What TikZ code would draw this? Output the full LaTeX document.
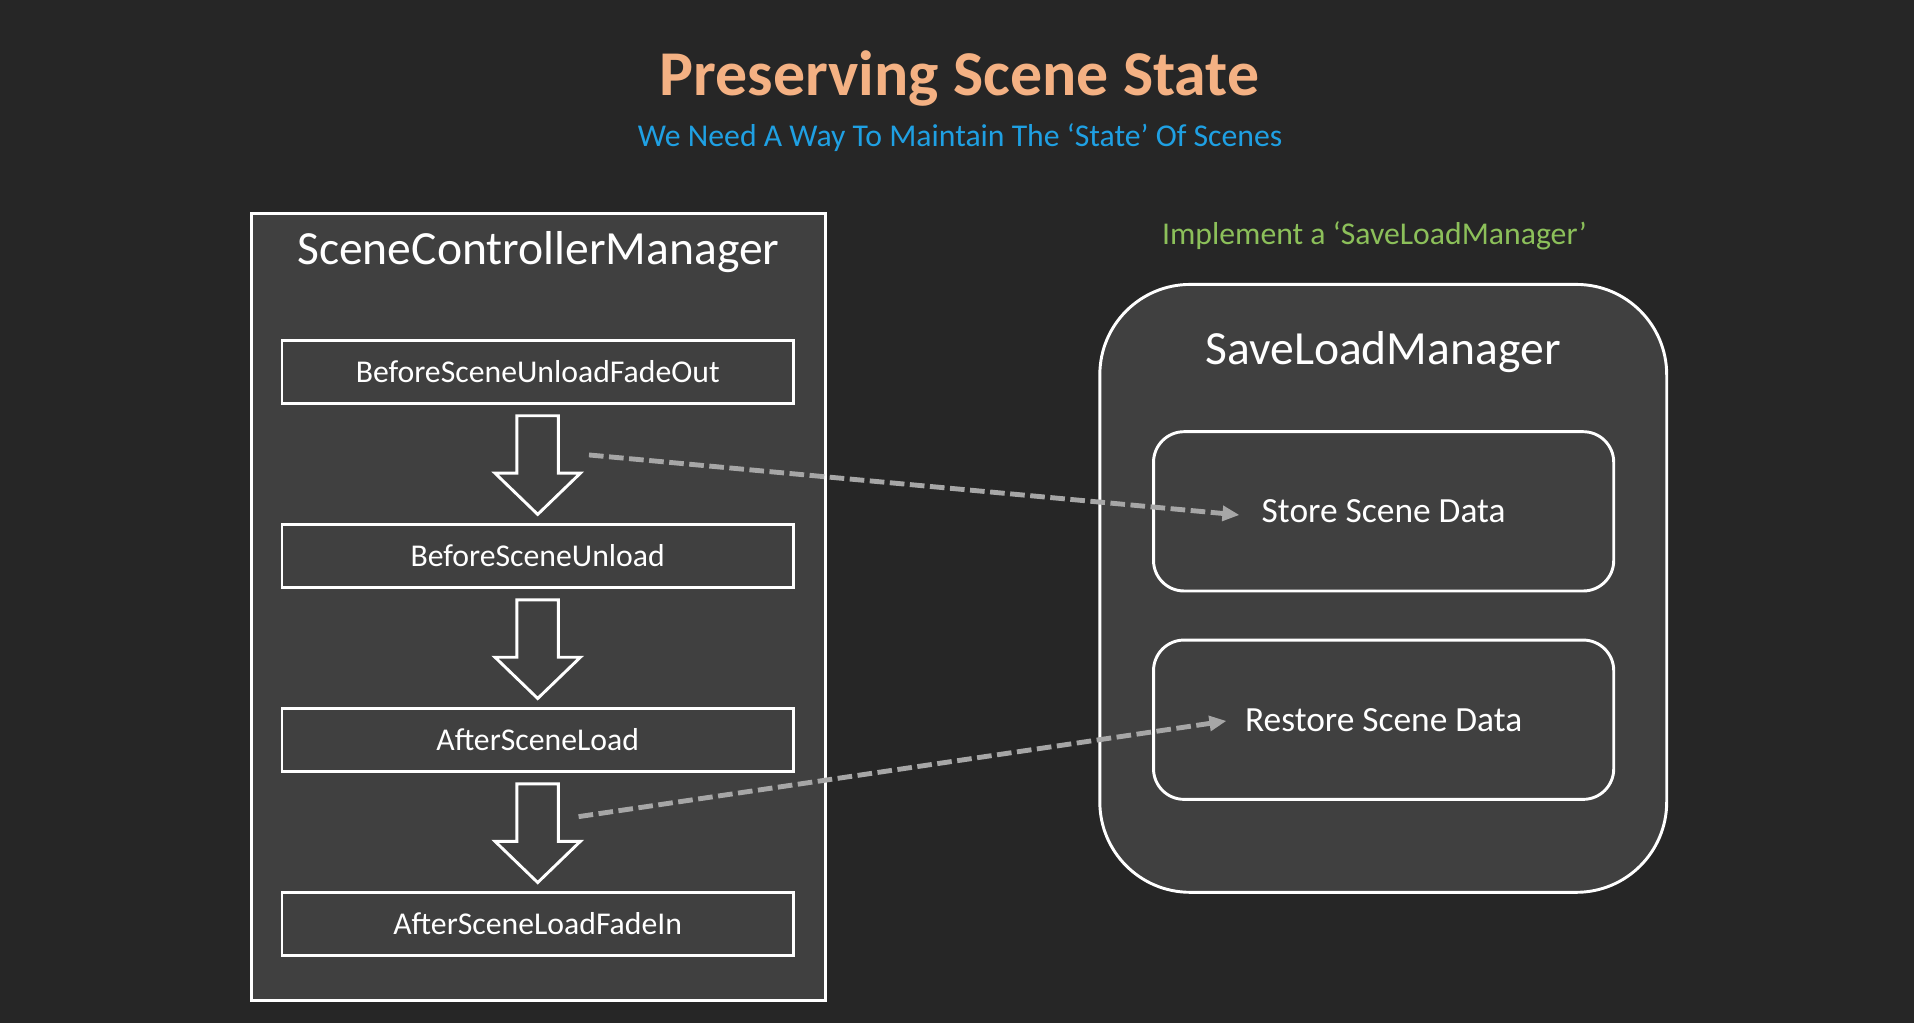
\documentclass[tikz,border=0pt]{standalone}
\usepackage{fontspec}
\setmainfont{Carlito}
\usetikzlibrary{positioning,calc,arrows.meta}

\definecolor{bgdark}{HTML}{262626}
\definecolor{panelgray}{HTML}{404040}
\definecolor{titleorange}{HTML}{F4B183}
\definecolor{subblue}{HTML}{1FA0E3}
\definecolor{notegreen}{HTML}{8CC05A}
\definecolor{dashgray}{HTML}{A6A6A6}

\tikzset{
  panel/.style={draw=white, fill=panelgray, line width=2.4pt, inner sep=0pt, outer sep=0pt},
  stagebox/.style={draw=white, line width=2.4pt, minimum width=419pt, minimum height=52pt,
    inner sep=0pt, outer sep=0pt, text=white, font=\fontsize{26}{30}\selectfont,
    text height=16.7pt, text depth=0pt},
  databox/.style={draw=white, line width=2.4pt, rounded corners=25pt, minimum width=377pt,
    minimum height=130.5pt, inner sep=0pt, outer sep=0pt},
  datatext/.style={text=white, inner sep=0pt, font=\fontsize{29}{34}\selectfont,
    text height=18.7pt, text depth=0pt},
  heading/.style={text=white, inner sep=0pt, anchor=base, font=\fontsize{39}{46}\selectfont},
  flowarrow/.style={draw=white, fill=panelgray, line width=2.4pt, line join=miter},
  datalink/.style={dashgray, line width=4pt, dash pattern=on 12pt off 4.5pt,
    -{Triangle[length=14pt,width=12pt]}}
}

\begin{document}
\begin{tikzpicture}[x=1pt, y=-1pt]
    % Background
    \fill[bgdark] (0,0) rectangle (1568,838);
    \useasboundingbox (0,0) rectangle (1568,838);

    % Titles
    \node[anchor=base, inner sep=0pt, text=titleorange, font=\fontsize{52.3}{60}\selectfont\bfseries]
        (title) at (786,78) {Preserving Scene State};
    \node[anchor=base, inner sep=0pt, text=subblue, font=\fontsize{26}{30}\selectfont]
        (subtitle) at (786.5,120.2) {We Need A Way To Maintain The ‘State’ Of Scenes};

    % Scene controller side
    \node[panel, minimum width=470pt, minimum height=644.5pt] (scm) at (441,497.5) {};
    \node[heading] (scmtitle) at (441,217) {SceneControllerManager};
    \node[stagebox] (fadeout) at (440.5,304.6) {BeforeSceneUnloadFadeOut};
    \node[stagebox, below=98.8pt of fadeout] (unload) {BeforeSceneUnload};
    \node[stagebox, below=98.8pt of unload] (load) {AfterSceneLoad};
    \node[stagebox, below=98.8pt of load] (fadein) {AfterSceneLoadFadeIn};

    % Block arrows between the stages
    \foreach \a/\b in {fadeout/unload, unload/load, load/fadein} {
        \draw[flowarrow] ($(\a.south)+(-17,10)$) -- ++(34,0) -- ++(0,47) -- ++(18,0)
            -- ($(\b.north)+(0,-8)$) -- ($(\a.south)+(-35,57)$) -- ++(18,0) -- cycle;
    }

    % Save/load side
    \node[anchor=base, inner sep=0pt, text=notegreen, font=\fontsize{26}{30}\selectfont]
        (note) at (1126,200.7) {Implement a ‘SaveLoadManager’};
    \node[panel, rounded corners=74pt, minimum width=464.4pt, minimum height=498pt] (slm) at (1133.2,482) {};
    \node[heading] (slmtitle) at (1133,299) {SaveLoadManager};
    \node[databox] (storebox) at (1133.5,418.9) {};
    \node[databox, below=40.2pt of storebox] (restorebox) {};
    \node[datatext] (store) at (storebox) {Store Scene Data};
    \node[datatext] (restore) at (restorebox) {Restore Scene Data};

    % Dashed links
    \coordinate (storefrom) at (482.5,372.7);
    \coordinate (restorefrom) at (474,669);
    \draw[datalink] (storefrom) -- ($(store.west)+(-18,3)$);
    \draw[datalink] (restorefrom) -- ($(restore.west)+(-15,1)$);
\end{tikzpicture}
\end{document}
